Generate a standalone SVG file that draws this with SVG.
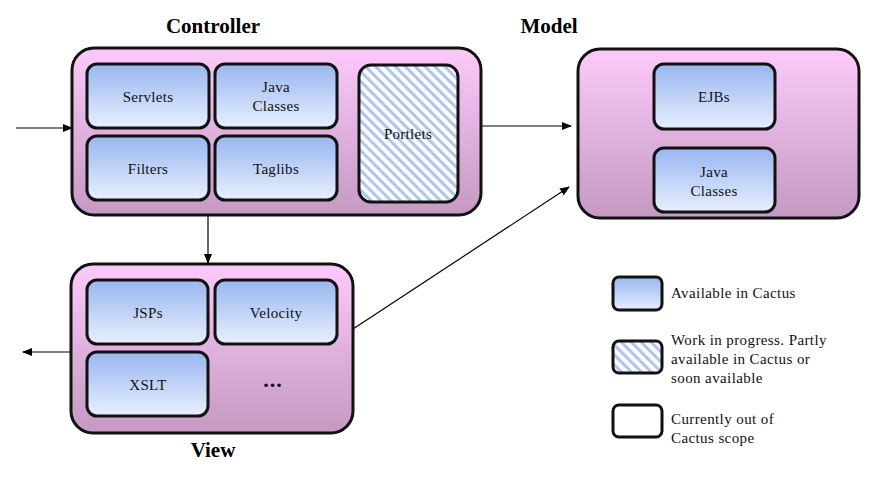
<svg xmlns="http://www.w3.org/2000/svg" width="880" height="478" viewBox="0 0 880 478">
<defs>
<linearGradient id="pink" x1="0" y1="0" x2="0" y2="1">
<stop offset="0" stop-color="#FCCAFA"/>
<stop offset="1" stop-color="#C499C2"/>
</linearGradient>
<linearGradient id="blue" x1="0" y1="0" x2="0" y2="1">
<stop offset="0" stop-color="#98B6F0"/>
<stop offset="1" stop-color="#E8EFFE"/>
</linearGradient>
<pattern id="hatch" width="7" height="7" patternUnits="userSpaceOnUse" patternTransform="rotate(-45)">
<rect width="7" height="7" fill="#FFFFFF"/>
<rect width="3" height="7" fill="#AFC5EE"/>
</pattern>
<marker id="arr" markerWidth="10" markerHeight="8" refX="9" refY="4" orient="auto" markerUnits="userSpaceOnUse">
<path d="M0,0 L10,4 L0,8 z" fill="#000"/>
</marker>
</defs>
<style>
.outer{fill:url(#pink);stroke:#111;stroke-width:3}
.inner{fill:url(#blue);stroke:#111;stroke-width:3}
.hatch{fill:url(#hatch);stroke:#111;stroke-width:3}
.empty{fill:#fff;stroke:#111;stroke-width:3}
.t{font-family:'Liberation Serif','Times New Roman',serif;font-size:15px;fill:#111;text-anchor:middle;letter-spacing:0.3px}
.lt{font-family:'Liberation Serif','Times New Roman',serif;font-size:15px;fill:#111;letter-spacing:0.4px}
.h{font-family:'Liberation Serif','Times New Roman',serif;font-size:21px;font-weight:bold;fill:#000;text-anchor:middle}
.c{stroke:#000;stroke-width:1.2;fill:none;marker-end:url(#arr)}
</style>
<rect width="880" height="478" fill="#fff"/>

<g id="connectors">
<line class="c" x1="16" y1="128" x2="72" y2="128"/>
<line class="c" x1="482" y1="126" x2="571" y2="126"/>
<line class="c" x1="208" y1="215" x2="208" y2="263"/>
<line class="c" x1="353" y1="329" x2="569" y2="187"/>
<line class="c" x1="71" y1="352" x2="23" y2="352"/>
</g>

<g id="controller">
<text class="h" x="213" y="33">Controller</text>
<rect class="outer" x="72" y="48" width="409" height="167" rx="22"/>
<g id="servlets"><rect class="inner" x="87" y="64" width="122" height="64" rx="10"/><text class="t" x="148" y="102">Servlets</text></g>
<g id="java-classes-c"><rect class="inner" x="215" y="64" width="122" height="64" rx="10"/><text class="t" x="276" y="92">Java</text><text class="t" x="276" y="111">Classes</text></g>
<g id="filters"><rect class="inner" x="87" y="136" width="122" height="64" rx="10"/><text class="t" x="148" y="174">Filters</text></g>
<g id="taglibs"><rect class="inner" x="215" y="136" width="122" height="64" rx="10"/><text class="t" x="276" y="174">Taglibs</text></g>
<g id="portlets"><rect class="hatch" x="359" y="65" width="99" height="137" rx="12"/><text class="t" x="408" y="139">Portlets</text></g>
</g>

<g id="model">
<text class="h" x="549" y="33">Model</text>
<rect class="outer" x="578" y="49" width="281" height="169" rx="22"/>
<g id="ejbs"><rect class="inner" x="654" y="64" width="121" height="65" rx="10"/><text class="t" x="714" y="102">EJBs</text></g>
<g id="java-classes-m"><rect class="inner" x="654" y="148" width="121" height="64" rx="10"/><text class="t" x="714" y="177">Java</text><text class="t" x="714" y="196">Classes</text></g>
</g>

<g id="view">
<rect class="outer" x="71" y="264" width="282" height="169" rx="22"/>
<g id="jsps"><rect class="inner" x="87" y="280" width="121" height="64" rx="10"/><text class="t" x="148" y="318">JSPs</text></g>
<g id="velocity"><rect class="inner" x="215" y="280" width="122" height="64" rx="10"/><text class="t" x="276" y="318">Velocity</text></g>
<g id="xslt"><rect class="inner" x="87" y="352" width="121" height="64" rx="10"/><text class="t" x="148" y="390">XSLT</text></g>
<text x="273" y="387" font-family="'Liberation Serif',serif" font-size="22" font-weight="bold" text-anchor="middle" fill="#111" letter-spacing="1">...</text>
<text class="h" x="213" y="457">View</text>
</g>

<g id="legend">
<g id="leg-available"><rect class="inner" x="613" y="277" width="49" height="33" rx="6"/><text class="lt" x="671" y="298">Available in Cactus</text></g>
<g id="leg-wip"><rect class="hatch" x="613" y="341" width="49" height="32" rx="6"/><text class="lt" x="671" y="345">Work in progress. Partly</text><text class="lt" x="671" y="364">available in Cactus or</text><text class="lt" x="671" y="383">soon available</text></g>
<g id="leg-out"><rect class="empty" x="613" y="405" width="49" height="32" rx="6"/><text class="lt" x="671" y="424">Currently out of</text><text class="lt" x="671" y="443">Cactus scope</text></g>
</g>
</svg>
